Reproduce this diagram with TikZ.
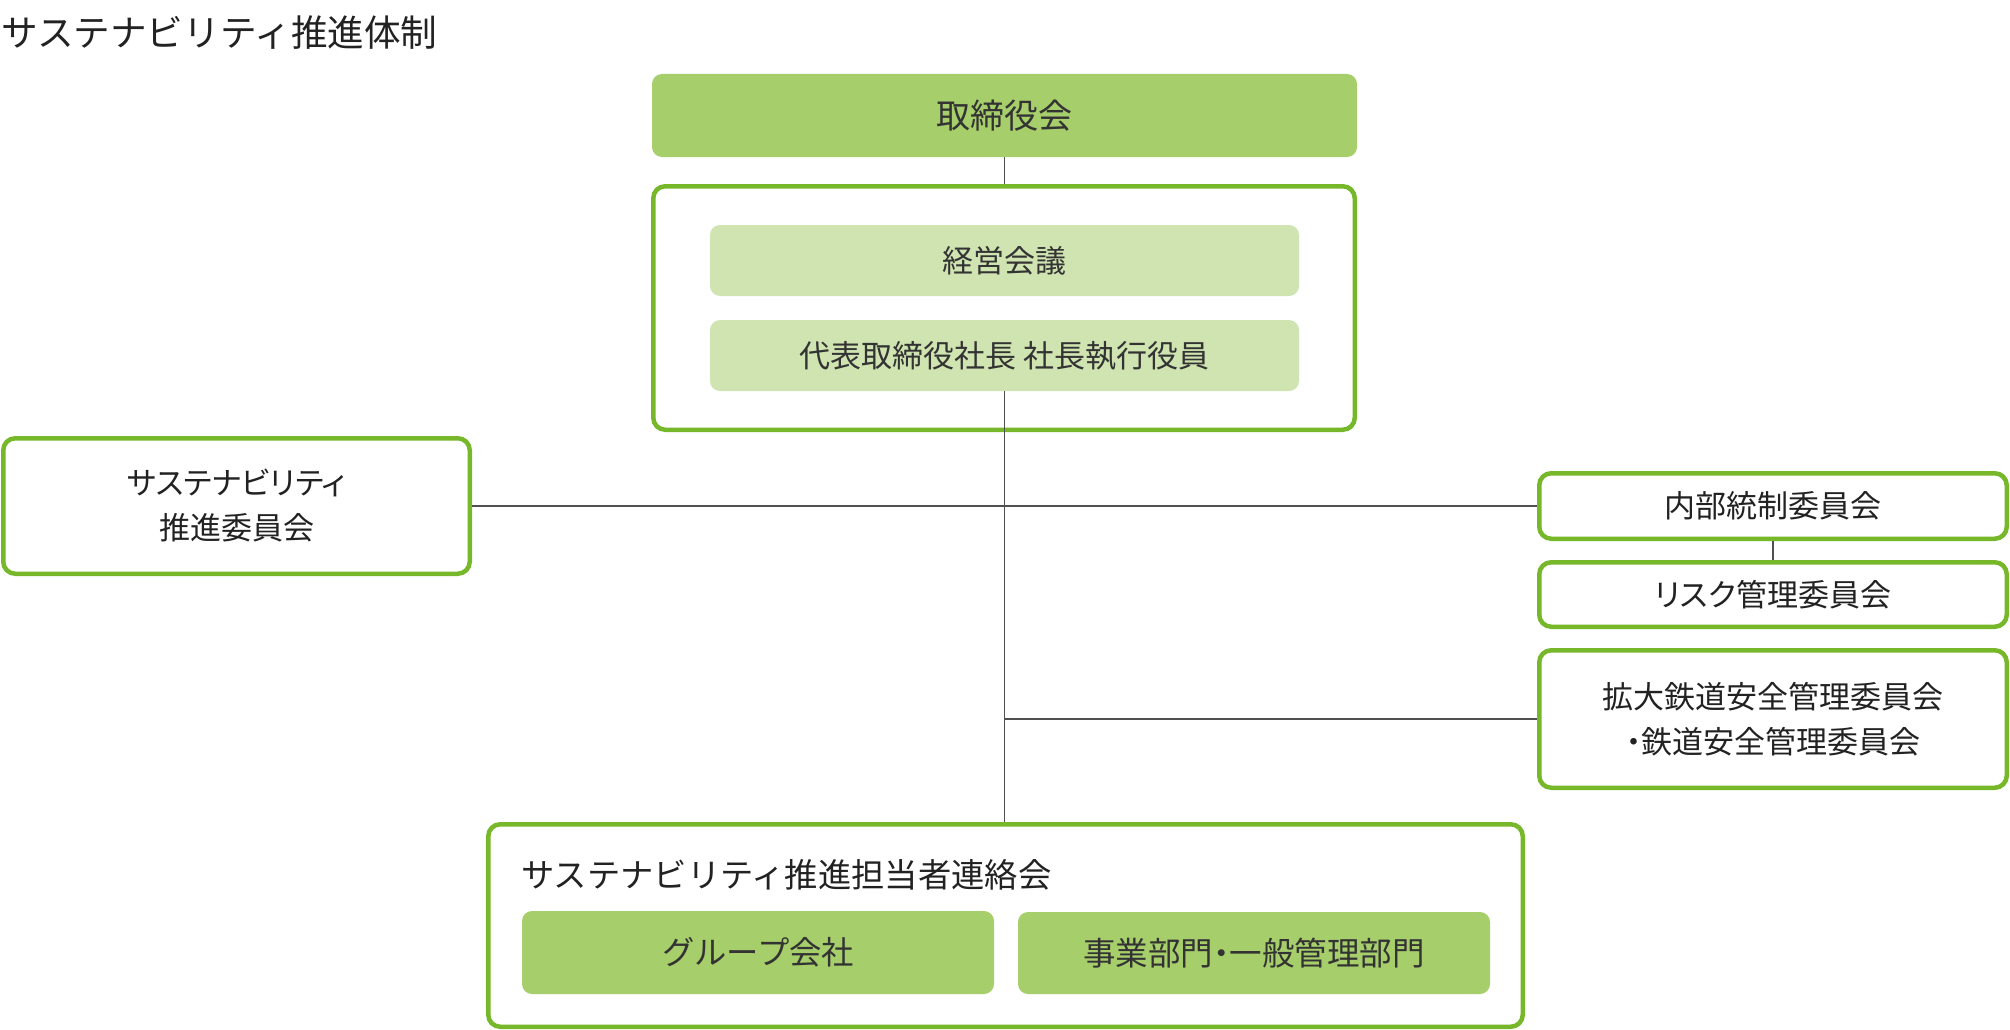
\documentclass[tikz,border=0pt]{standalone}
\usepackage{fontspec}
\setmainfont{Noto Sans CJK JP}[RawFeature=+palt]
\newfontfamily\plainjp{Noto Sans CJK JP}
\definecolor{gdark}{HTML}{A6CE6B}
\definecolor{glight}{HTML}{CFE4B1}
\definecolor{gline}{HTML}{76B82A}
\definecolor{txt}{HTML}{222222}
\definecolor{txtg}{HTML}{333333}
\definecolor{conn}{HTML}{505050}
\tikzset{
  fillbox/.style={rectangle, rounded corners=10pt, draw=none, inner sep=0pt, text=txtg},
  darkbox/.style={fillbox, fill=gdark},
  lightbox/.style={fillbox, fill=glight},
  linebox/.style={rectangle, rounded corners=12pt, draw=gline, line width=4.5pt, fill=white, inner sep=0pt, text=txt, align=center},
  connector/.style={draw=conn, line width=1.5pt},
  f31/.style={font=\fontsize{31}{45}\selectfont},
  f32/.style={font=\fontsize{32.5}{45}\selectfont},
}
\begin{document}
\begin{tikzpicture}[x=1pt,y=-1pt]
\useasboundingbox (0,0) rectangle (2010,1030);
\fill[white] (0,0) rectangle (2010,1030);
% title
\node[anchor=west, text=txt, font=\plainjp\fontsize{36.6}{40}\selectfont, inner sep=0pt] (title) at (1,33) {サステナビリティ推進体制};
% board
\node[darkbox, minimum width=705pt, minimum height=83pt, font=\fontsize{34}{40}\selectfont] (T) at (1004.5,115.5) {取締役会};
% executive container
\node[linebox, minimum width=701.5pt, minimum height=243.5pt] (E) at (1004,308) {};
\node[lightbox, minimum width=589pt, minimum height=71pt, f31] (M) at (1004.5,260.5) {経営会議};
\node[lightbox, minimum width=589pt, minimum height=71pt, f31] (P) at (1004.5,355.5) {代表取締役社長 社長執行役員};
% left committee
\node[linebox, minimum width=466.5pt, minimum height=135.5pt, f31] (S) at (236.5,506) {サステナビリティ\\推進委員会};
% right committees
\node[linebox, minimum width=467.5pt, minimum height=65.5pt, f31] (I) at (1773,506) {内部統制委員会};
\node[linebox, minimum width=467.5pt, minimum height=64.5pt, f31] (R) at (1773,594.5) {リスク管理委員会};
\node[linebox, minimum width=467.5pt, minimum height=137.5pt, f31] (K) at (1773,719) {拡大鉄道安全管理委員会\\・鉄道安全管理委員会};
% bottom liaison
\node[linebox, minimum width=1034.5pt, minimum height=202.5pt] (B) at (1005.5,925.5) {};
\node[anchor=west, inner sep=0pt, text=txt, font=\plainjp\fontsize{33.3}{45}\selectfont] (Btitle) at (521,875) {サステナビリティ推進担当者連絡会};
\node[darkbox, minimum width=472pt, minimum height=83pt, font=\plainjp\fontsize{32.3}{45}\selectfont] (G) at (758,952.5) {グループ会社};
\node[darkbox, minimum width=472pt, minimum height=82pt, f32] (J) at (1254,953) {事業部門・一般管理部門};
% connectors
\coordinate (Ktap) at (P.south |- K.west);
\draw[connector] (T.south) -- (T.south |- E.north);
\draw[connector] (S.east) -- (I.west);
\draw[connector] (I.south) -- (R.north);
\draw[connector] (P.south) -- (P.south |- B.north);
\draw[connector] (Ktap) -- (K.west);
\end{tikzpicture}
\end{document}
